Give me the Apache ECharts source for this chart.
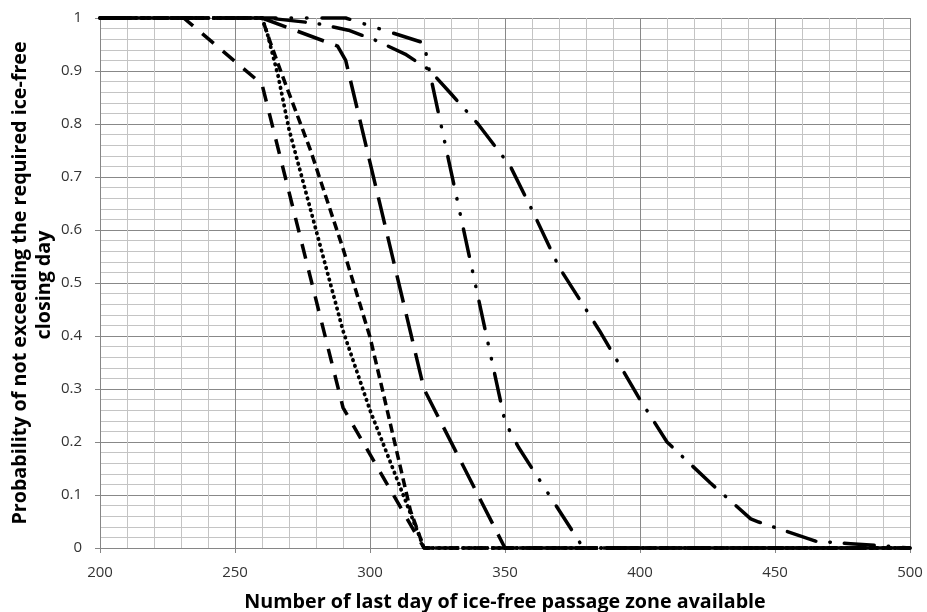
<!DOCTYPE html>
<html>
<head>
<meta charset="utf-8">
<script src="https://cdn.jsdelivr.net/npm/echarts@6/dist/echarts.min.js"></script>
<style>
html,body{margin:0;padding:0;background:#fff;}
#chart{width:927px;height:612px;}
</style>
</head>
<body>
<div id="chart"></div>
<script>
// x-axis tick labels and y-axis tick labels
const xTicks = [200, 250, 300, 350, 400, 450, 500];
const yTicks = [0, 0.1, 0.2, 0.3, 0.4, 0.5, 0.6, 0.7, 0.8, 0.9, 1];

// Series A (short dashes, leftmost)
const xA = [200, 231, 260, 290, 320, 500];
const yA = [1, 1, 0.875, 0.265, 0, 0];

// Series B (dotted)
const xB = [200, 260, 262, 266, 270, 280, 290, 300, 310, 320, 500];
const yB = [1, 1, 0.97, 0.89, 0.79, 0.6, 0.41, 0.26, 0.13, 0, 0];

// Series C (medium dashes)
const xC = [200, 260, 263, 268, 278, 290, 300, 305, 310, 315, 320, 500];
const yC = [1, 1, 0.955, 0.885, 0.75, 0.565, 0.398, 0.29, 0.18, 0.07, 0, 0];

// Series D (long dashes)
const xD = [200, 260, 288, 291, 320, 350, 500];
const yD = [1, 1, 0.947, 0.92, 0.3, 0, 0];

// Series E (dash-dot-dot)
const xE = [200, 291, 320, 322, 350, 355, 379, 500];
const yE = [1, 1, 0.953, 0.9, 0.238, 0.19, 0, 0];

// Series F (dash-dot)
const xF = [200, 262, 280, 292, 302, 313, 322, 330, 340, 352, 360, 370, 385, 400, 410, 426, 441, 444, 465, 478, 490, 495, 500];
const yF = [1, 1, 0.99, 0.977, 0.958, 0.932, 0.902, 0.857, 0.8, 0.72, 0.638, 0.53, 0.41, 0.28, 0.2, 0.123, 0.055, 0.049, 0.013, 0.008, 0.004, 0.002, 0];

function pairs(xs, ys) { return xs.map((x, i) => [x, ys[i]]); }

const seriesDefs = [
  { name: 'A', x: xA, y: yA, dash: [15, 12], cap: 'butt', w: 3.5 },
  { name: 'B', x: xB, y: yB, dash: [0.5, 5.5], cap: 'round', w: 3.8 },
  { name: 'C', x: xC, y: yC, dash: [9, 5], cap: 'butt', w: 3.5 },
  { name: 'D', x: xD, y: yD, dash: [28, 12], cap: 'butt', w: 3.5 },
  { name: 'E', x: xE, y: yE, dash: [28, 15, 0.5, 15, 0.5, 15], cap: 'round', w: 3.5 },
  { name: 'F', x: xF, y: yF, dash: [30, 14, 0.5, 14], cap: 'round', w: 3.5 }
];

const chart = echarts.init(document.getElementById('chart'), null, { renderer: 'canvas' });

const labelFont = '"Open Sans", "Noto Sans", sans-serif';

chart.setOption({
  animation: false,
  backgroundColor: '#ffffff',
  grid: { left: 100, right: 17, top: 18, bottom: 64, containLabel: false, outerBoundsMode: 'none' },
  xAxis: {
    type: 'value',
    min: xTicks[0],
    max: xTicks[xTicks.length - 1],
    interval: 50,
    axisLine: { show: true, lineStyle: { color: '#868686', width: 1 } },
    axisTick: { show: true, length: 5, lineStyle: { color: '#868686' } },
    minorTick: { show: false, splitNumber: 5 },
    minorSplitLine: { show: true, lineStyle: { color: '#c4c4c4', width: 1 } },
    splitLine: { show: true, lineStyle: { color: '#888888', width: 1 } },
    axisLabel: { color: '#333333', fontSize: 15, fontFamily: labelFont, margin: 17 },
    name: 'Number of last day of ice-free passage zone available',
    nameLocation: 'middle',
    nameGap: 44,
    nameTextStyle: { color: '#000', fontSize: 19.7, fontWeight: 'bold', fontFamily: labelFont }
  },
  yAxis: {
    type: 'value',
    min: yTicks[0],
    max: yTicks[yTicks.length - 1],
    interval: 0.1,
    axisLine: { show: true, lineStyle: { color: '#868686', width: 1 } },
    axisTick: { show: true, length: 5, lineStyle: { color: '#868686' } },
    minorTick: { show: false, splitNumber: 5 },
    minorSplitLine: { show: true, lineStyle: { color: '#c4c4c4', width: 1 } },
    splitLine: { show: true, lineStyle: { color: '#888888', width: 1 } },
    axisLabel: {
      color: '#333333', fontSize: 15, fontFamily: labelFont, margin: 18,
      formatter: v => String(Math.round(v * 10) / 10)
    }
  },
  graphic: [
    {
      type: 'text', x: 20, y: 283, rotation: Math.PI / 2,
      style: {
        text: 'Probability of not exceeding the required ice-free',
        fill: '#000', font: 'bold 19.7px ' + labelFont,
        textAlign: 'center', textVerticalAlign: 'middle'
      }
    },
    {
      type: 'text', x: 44, y: 285, rotation: Math.PI / 2,
      style: {
        text: 'closing day',
        fill: '#000', font: 'bold 19.7px ' + labelFont,
        textAlign: 'center', textVerticalAlign: 'middle'
      }
    }
  ],
  series: seriesDefs.map(s => ({
    name: s.name,
    type: 'line',
    data: pairs(s.x, s.y),
    showSymbol: false,
    symbol: 'none',
    clip: false,
    lineStyle: { color: '#000', width: s.w, type: s.dash, cap: s.cap, join: 'round' }
  }))
});
</script>
</body>
</html>
